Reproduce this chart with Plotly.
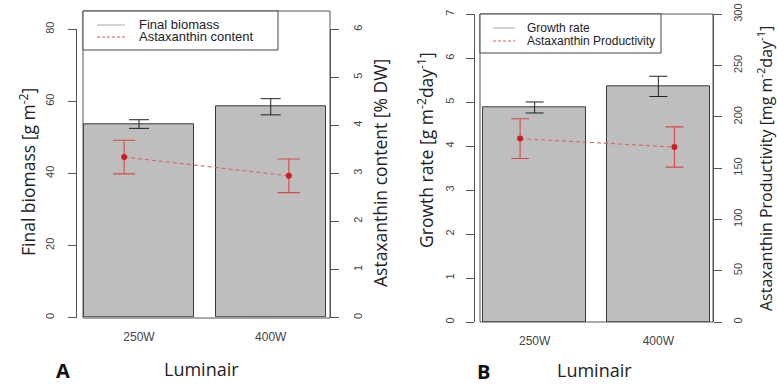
import plotly.graph_objects as go

W, H = 777, 384

# ---------------- data ----------------
luminair = ["250W", "400W"]
bar_pos = [0.7, 1.9]          # barplot positions (width 1, space 0.2)
pt_pos = [1, 2]               # overlay plot positions

final_biomass = [53.7, 58.5]
final_biomass_err = [1.2, 2.25]
asta_content = [3.34, 2.95]
asta_content_err = [0.35, 0.35]

growth_rate = [4.88, 5.36]
growth_rate_err = [0.125, 0.23]
asta_prod = [178.8, 170.6]
asta_prod_err = [19.4, 19.6]

left_ticks_A = [0, 20, 40, 60, 80]
right_ticks_A = [0, 1, 2, 3, 4, 5, 6]
left_ticks_B = [0, 1, 2, 3, 4, 5, 6, 7]
right_ticks_B = [0, 50, 100, 150, 200, 250, 300]

# ---------------- style ----------------
BAR_FILL = "#bebebe"
BAR_LINE = "#3a3a3a"
AX = "#555555"
TICKFONT = dict(family="Liberation Sans, Arial, sans-serif", size=11, color="#444444")
RED_PT = "#c81e1e"
RED_ERR = "#d44a4a"
RED_LINE = "#e05a5a"


def px(x):
    return x / W


def py(y):
    return 1 - y / H


fig = go.Figure()

# ---- Panel A ----
fig.add_trace(go.Bar(
    x=bar_pos, y=final_biomass, width=1, name="Final biomass",
    marker=dict(color=BAR_FILL, line=dict(color=BAR_LINE, width=1)),
    error_y=dict(type="data", array=final_biomass_err, color="#222222", thickness=1, width=10),
    xaxis="x", yaxis="y", showlegend=False,
))
fig.add_trace(go.Scatter(
    x=pt_pos, y=asta_content, name="Astaxanthin content", mode="lines+markers",
    line=dict(color=RED_LINE, width=1, dash="4px,3px"),
    marker=dict(color=RED_PT, size=6),
    error_y=dict(type="data", array=asta_content_err, color=RED_ERR, thickness=1.1, width=11),
    xaxis="x2", yaxis="y2", showlegend=False,
))

# ---- Panel B ----
fig.add_trace(go.Bar(
    x=bar_pos, y=growth_rate, width=1, name="Growth rate",
    marker=dict(color=BAR_FILL, line=dict(color=BAR_LINE, width=1)),
    error_y=dict(type="data", array=growth_rate_err, color="#222222", thickness=1, width=9),
    xaxis="x3", yaxis="y3", showlegend=False,
))
fig.add_trace(go.Scatter(
    x=pt_pos, y=asta_prod, name="Astaxanthin Productivity", mode="lines+markers",
    line=dict(color=RED_LINE, width=1, dash="4px,3px"),
    marker=dict(color=RED_PT, size=6),
    error_y=dict(type="data", array=asta_prod_err, color=RED_ERR, thickness=1.1, width=9),
    xaxis="x4", yaxis="y4", showlegend=False,
))

# frames (pixel boxes)
A_box = (83, 11, 330, 318)
B_box = (480, 14, 713, 322)


def yax(domain_px, rng, ticks, pos_px, side="left", standoff=9):
    return dict(
        domain=[py(domain_px[0]), py(domain_px[1])], range=rng, tickvals=ticks,
        anchor="free", position=px(pos_px), side=side, automargin=False,
        showline=True, linecolor=AX, linewidth=1, ticks="outside", ticklen=8,
        tickcolor=AX, tickangle=-90, tickfont=TICKFONT, showgrid=False,
        zeroline=False, ticklabelstandoff=standoff, fixedrange=True,
    )


def xax(box, rng, show, anchor, overlaying=None):
    d = dict(domain=[px(box[0]), px(box[2])], range=rng, anchor=anchor, automargin=False,
             showgrid=False, zeroline=False, showline=False, fixedrange=True)
    if show:
        d.update(tickvals=bar_pos, ticktext=luminair, ticks="", ticklabelstandoff=10,
                 tickfont=dict(family="Liberation Sans, Arial, sans-serif", size=12, color="#444444"))
    else:
        d.update(showticklabels=False, ticks="")
    if overlaying:
        d["overlaying"] = overlaying
    return d


fig.update_layout(
    width=W, height=H, margin=dict(l=0, r=0, t=0, b=0, autoexpand=False),
    paper_bgcolor="white", plot_bgcolor="rgba(0,0,0,0)",
    bargap=0,
    xaxis=xax(A_box, [0.19, 2.44], True, "y"),
    xaxis2=xax(A_box, [0.75, 2.25], False, "y2", "x"),
    xaxis3=xax(B_box, [0.17, 2.43], True, "y3"),
    xaxis4=xax(B_box, [0.74, 2.25], False, "y4", "x3"),
    yaxis=yax((317.5, 29.3), [0, 80], left_ticks_A, 75.5, "left", 9),
    yaxis2={**yax((318, 22.3), [0, 6], right_ticks_A, 330, "right", 10), "overlaying": "y"},
    yaxis3=yax((322, 14.3), [0, 7], left_ticks_B, 473.5, "left", 7),
    yaxis4={**yax((322, 25), [0, 300], right_ticks_B, 713, "right", 7), "overlaying": "y3"},
    showlegend=False,
)

shapes = []
for b in (A_box, B_box):
    shapes.append(dict(type="rect", xref="paper", yref="paper",
                       x0=px(b[0]), x1=px(b[2]), y0=py(b[3]), y1=py(b[1]),
                       line=dict(color=AX, width=1), fillcolor="rgba(0,0,0,0)", layer="above"))

# legend boxes (drawn as frames with swatches + text)
legendA = dict(box=(83, 11, 278, 50), sw=(97, 125), rows=(25, 37), tx=137, size=13,
               labels=["Final biomass", "Astaxanthin content"])
legendB = dict(box=(480, 14, 661, 53), sw=(493, 515), rows=(28, 41), tx=525, size=12,
               labels=["Growth rate", "Astaxanthin Productivity"])

annotations = []
for lg in (legendA, legendB):
    b = lg["box"]
    shapes.append(dict(type="rect", xref="paper", yref="paper",
                       x0=px(b[0]), x1=px(b[2]), y0=py(b[3]), y1=py(b[1]),
                       line=dict(color="#444444", width=1), fillcolor="white", layer="above"))
    shapes.append(dict(type="line", xref="paper", yref="paper",
                       x0=px(lg["sw"][0]), x1=px(lg["sw"][1]),
                       y0=py(lg["rows"][0]), y1=py(lg["rows"][0]),
                       line=dict(color="#c4c4c4", width=1.5), layer="above"))
    shapes.append(dict(type="line", xref="paper", yref="paper",
                       x0=px(lg["sw"][0]), x1=px(lg["sw"][1]),
                       y0=py(lg["rows"][1]), y1=py(lg["rows"][1]),
                       line=dict(color=RED_LINE, width=1.2, dash="3px,2px"), layer="above"))
    for r, t in zip(lg["rows"], lg["labels"]):
        annotations.append(dict(xref="paper", yref="paper", x=px(lg["tx"]), y=py(r),
                                text=t, showarrow=False, xanchor="left", yanchor="middle",
                                font=dict(family="Liberation Sans, Arial, sans-serif",
                                          size=lg["size"], color="#222222")))

# axis titles (x px, y px, text, font size)
titles = [
    (27, 172, "Final biomass [g m<sup>-2</sup>]", 17.5),
    (380, 173, "Astaxanthin content [% DW]", 17.5),
    (425, 150, "Growth rate [g m<sup>-2</sup>day<sup>-1</sup>]", 17.5),
    (765, 169, "Astaxanthin Productivity [mg m<sup>-2</sup>day<sup>-1</sup>]", 16),
]
for x, y, t, s in titles:
    annotations.append(dict(xref="paper", yref="paper", x=px(x), y=py(y), text=t, textangle=-90,
                            showarrow=False, xanchor="center", yanchor="middle",
                            font=dict(family="Open Sans, sans-serif", size=s, color="#222222")))

annotations += [
    dict(xref="paper", yref="paper", x=px(201), y=py(369), text="Luminair", showarrow=False,
         xanchor="center", yanchor="middle",
         font=dict(family="Open Sans, sans-serif", size=18, color="#222222")),
    dict(xref="paper", yref="paper", x=px(594), y=py(370), text="Luminair", showarrow=False,
         xanchor="center", yanchor="middle",
         font=dict(family="Open Sans, sans-serif", size=18, color="#222222")),
    dict(xref="paper", yref="paper", x=px(63), y=py(370), text="<b>A</b>", showarrow=False,
         xanchor="center", yanchor="middle",
         font=dict(family="Open Sans, sans-serif", size=20, color="#111111")),
    dict(xref="paper", yref="paper", x=px(483), y=py(371), text="<b>B</b>", showarrow=False,
         xanchor="center", yanchor="middle",
         font=dict(family="Open Sans, sans-serif", size=20, color="#111111")),
]

fig.update_layout(shapes=shapes, annotations=annotations)
fig.write_html("out.html", config={"displayModeBar": False},
               post_script="document.body.style.margin='0';")
